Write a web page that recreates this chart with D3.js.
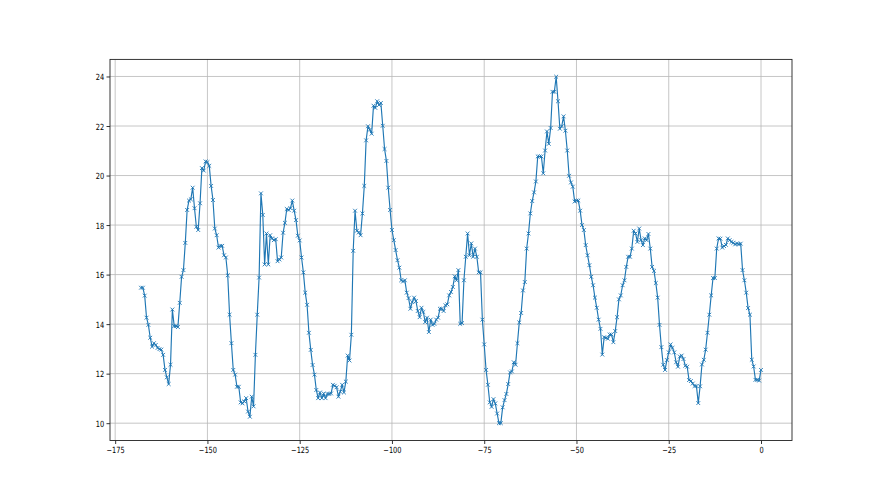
<!DOCTYPE html>
<html>
<head>
<meta charset="utf-8">
<script src="https://cdn.jsdelivr.net/npm/d3@7"></script>
<style>
  html, body { margin: 0; padding: 0; background: #ffffff; }
  svg { display: block; }
  text { font-family: "DejaVu Sans", sans-serif; }
</style>
</head>
<body>
<div id="chart"></div>
<script>
// ---- data ----
const xEnd = 0;        // last sample position
const xStep = 0.5;     // spacing between samples
const values = [
  15.47, 15.47, 15.15, 14.26, 13.97, 13.45, 13.09, 13.23, 13.16, 13.04,
  12.99, 12.97, 12.76, 12.15, 11.85, 11.58, 12.36, 14.59, 13.92, 13.92,
  13.88, 14.86, 15.91, 16.18, 17.28, 18.61, 18.99, 19.04, 19.51, 18.68,
  17.93, 17.80, 18.88, 20.30, 20.20, 20.57, 20.54, 20.39, 19.58, 19.01,
  17.86, 17.59, 17.09, 17.16, 17.16, 16.78, 16.69, 15.97, 14.38, 13.23,
  12.15, 11.96, 11.47, 11.47, 10.84, 10.80, 10.88, 11.01, 10.47, 10.26,
  11.07, 10.68, 12.76, 14.38, 15.88, 19.28, 18.41, 16.41, 17.66, 16.41,
  17.59, 17.46, 17.39, 17.43, 16.54, 16.61, 16.69, 17.69, 18.09, 18.65,
  18.61, 18.68, 18.99, 18.58, 18.20, 17.57, 17.38, 16.69, 16.09, 15.27,
  14.78, 13.65, 12.96, 12.35, 11.96, 11.34, 11.01, 11.24, 11.01, 11.20,
  11.01, 11.18, 11.18, 11.20, 11.55, 11.51, 11.45, 11.07, 11.27, 11.55,
  11.24, 11.68, 12.73, 12.53, 13.57, 16.96, 18.58, 17.77, 17.70, 17.59,
  18.47, 19.58, 21.42, 21.99, 21.85, 21.69, 22.82, 22.73, 23.00, 22.85,
  22.93, 22.01, 21.07, 20.59, 19.51, 18.61, 17.80, 17.39, 16.99, 16.58,
  16.28, 15.77, 15.72, 15.77, 15.27, 15.05, 14.62, 14.89, 15.07, 14.93,
  14.53, 14.28, 14.66, 14.49, 14.08, 14.26, 13.68, 14.18, 13.97, 14.01,
  14.18, 14.26, 14.62, 14.62, 14.53, 14.76, 14.80, 15.16, 15.30, 15.50,
  15.93, 15.77, 16.18, 14.01, 14.04, 15.77, 16.72, 17.66, 16.78, 17.26,
  16.72, 17.05, 16.72, 16.09, 16.09, 14.18, 13.18, 12.15, 11.55, 10.84,
  10.66, 10.97, 10.80, 10.39, 10.00, 10.00, 10.64, 10.93, 11.18, 11.58,
  12.05, 12.09, 12.46, 12.36, 13.23, 14.07, 14.45, 15.36, 15.70, 17.05,
  17.66, 18.47, 18.97, 19.32, 19.76, 20.77, 20.77, 20.77, 20.09, 21.01,
  21.78, 21.28, 21.92, 23.38, 23.38, 23.99, 23.00, 21.89, 21.99, 22.39,
  21.81, 21.01, 19.99, 19.72, 19.55, 18.95, 18.99, 18.99, 18.58, 18.00,
  17.80, 17.19, 16.78, 16.38, 15.91, 15.57, 15.07, 14.66, 14.18, 13.81,
  12.77, 13.47, 13.45, 13.41, 13.58, 13.58, 13.27, 13.72, 14.28, 15.00,
  15.16, 15.57, 15.77, 16.31, 16.72, 16.72, 17.05, 17.77, 17.66, 17.32,
  17.86, 17.39, 17.19, 17.46, 17.39, 17.64, 17.05, 16.31, 16.15, 15.66,
  15.07, 13.97, 13.07, 12.36, 12.15, 12.55, 12.86, 13.18, 13.04, 12.86,
  12.46, 12.28, 12.69, 12.73, 12.59, 12.32, 12.28, 11.74, 11.70, 11.60,
  11.50, 11.50, 10.81, 11.49, 12.37, 12.56, 12.97, 13.65, 14.38, 15.16,
  15.86, 15.86, 17.05, 17.46, 17.45, 17.09, 17.15, 17.20, 17.46, 17.39,
  17.32, 17.28, 17.22, 17.26, 17.22, 17.25, 16.18, 15.77, 15.27, 14.65,
  14.38, 12.56, 12.29, 11.75, 11.75, 11.72, 12.15
];
const xTicks = [-175, -150, -125, -100, -75, -50, -25, 0];
const yTicks = [10, 12, 14, 16, 18, 20, 22, 24];

// ---- layout ----
const W = 880, H = 495;
const m = { left: 110, right: 88, top: 59.4, bottom: 54.5 };
const iw = W - m.left - m.right, ih = H - m.top - m.bottom;
const n = values.length;
const data = values.map((v, i) => ({ x: xEnd - (n - 1 - i) * xStep, y: v }));

const xMin = d3.min(data, d => d.x), xMax = d3.max(data, d => d.x);
const yMin = d3.min(values), yMax = d3.max(values);
const xPad = (xMax - xMin) * 0.05, yPad = (yMax - yMin) * 0.05;

const x = d3.scaleLinear().domain([xMin - xPad, xMax + xPad]).range([0, iw]);
const y = d3.scaleLinear().domain([yMin - yPad, yMax + yPad]).range([ih, 0]);

const svg = d3.select("#chart").append("svg").attr("width", W).attr("height", H);
svg.append("rect").attr("width", W).attr("height", H).attr("fill", "#ffffff");
const g = svg.append("g").attr("transform", `translate(${m.left},${m.top})`);

// grid
g.append("g").selectAll("line").data(xTicks).join("line")
  .attr("x1", d => x(d)).attr("x2", d => x(d)).attr("y1", 0).attr("y2", ih)
  .attr("stroke", "#b8b8b8").attr("stroke-width", 0.8);
g.append("g").selectAll("line").data(yTicks).join("line")
  .attr("y1", d => y(d)).attr("y2", d => y(d)).attr("x1", 0).attr("x2", iw)
  .attr("stroke", "#b8b8b8").attr("stroke-width", 0.8);

// line
g.append("path").datum(data)
  .attr("fill", "none").attr("stroke", "#1f77b4").attr("stroke-width", 1.15)
  .attr("stroke-linejoin", "round")
  .attr("d", d3.line().x(d => x(d.x)).y(d => y(d.y)));

// x markers
const s = 1.9;
g.append("g").selectAll("path").data(data).join("path")
  .attr("transform", d => `translate(${x(d.x)},${y(d.y)})`)
  .attr("d", `M${-s},${-s}L${s},${s}M${-s},${s}L${s},${-s}`)
  .attr("stroke", "#1f77b4").attr("stroke-width", 0.9).attr("fill", "none");

// axes
const fmt = d => (d < 0 ? "\u2212" + Math.abs(d) : String(d));
const xAxis = g.append("g").attr("transform", `translate(0,${ih})`)
  .call(d3.axisBottom(x).tickValues(xTicks).tickFormat(fmt).tickSize(3.5).tickSizeOuter(0));
xAxis.select(".domain").remove();
xAxis.selectAll(".tick line").attr("stroke", "#000").attr("stroke-width", 0.8);
xAxis.selectAll(".tick text")
  .attr("y", null).attr("dy", null)
  .attr("transform", "translate(0,12) scale(0.78,1)")
  .attr("font-size", "8.5px").attr("fill", "#000");

const yAxis = g.append("g")
  .call(d3.axisLeft(y).tickValues(yTicks).tickFormat(fmt).tickSize(3.5).tickSizeOuter(0));
yAxis.select(".domain").remove();
yAxis.selectAll(".tick line").attr("stroke", "#000").attr("stroke-width", 0.8);
yAxis.selectAll(".tick text")
  .attr("x", null).attr("dy", null)
  .attr("text-anchor", "end")
  .attr("transform", "translate(-5.7,3.1) scale(0.78,1)")
  .attr("font-size", "8.5px").attr("fill", "#000");

// spines
g.append("rect").attr("x", 0).attr("y", 0).attr("width", iw).attr("height", ih)
  .attr("fill", "none").attr("stroke", "#222").attr("stroke-width", 0.9);
</script>
</body>
</html>
